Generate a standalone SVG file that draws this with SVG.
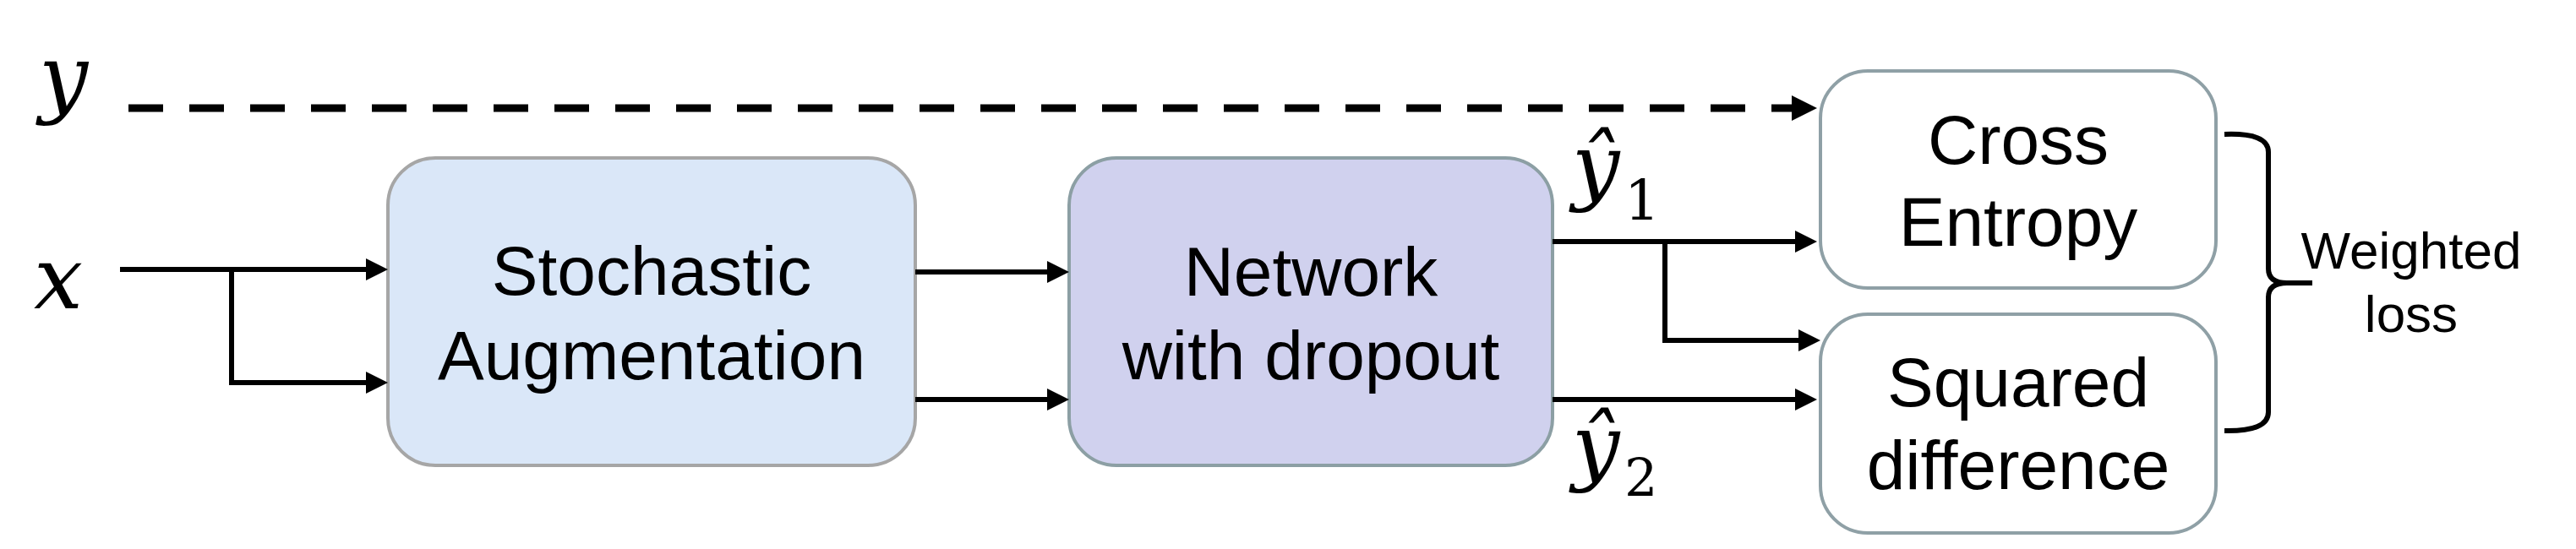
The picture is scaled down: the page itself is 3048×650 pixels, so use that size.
<svg xmlns="http://www.w3.org/2000/svg" width="3048" height="650" viewBox="0 0 3048 650">
<style>
.box{stroke-width:4}
.lbl{font-family:"Liberation Sans",Arial,sans-serif;font-size:82px;fill:#000;text-anchor:middle}
.sm{font-family:"Liberation Sans",Arial,sans-serif;font-size:62px;fill:#000;text-anchor:middle}
.math{font-family:"DejaVu Serif","Liberation Serif",serif;font-style:italic;fill:#000}
.sub{font-style:normal}
.ln{fill:none;stroke:#000;stroke-width:6}
</style>
<defs>
<marker id="ah" markerUnits="userSpaceOnUse" markerWidth="28" markerHeight="28" refX="0" refY="13" orient="auto" viewBox="0 0 28 28">
<path d="M0,0 L26,13 L0,26 z" fill="#000"/>
</marker>
<marker id="ahd" markerUnits="userSpaceOnUse" markerWidth="32" markerHeight="32" refX="0" refY="15" orient="auto" viewBox="0 0 32 32">
<path d="M0,0 L30,15 L0,30 z" fill="#000"/>
</marker>
</defs>
<rect width="3048" height="650" fill="#fff"/>
<g id="label-y"><text class="math" x="46" y="126" font-size="103">y</text></g>
<g id="label-x"><text class="math" x="40" y="365" font-size="103">x</text></g>
<g id="label-yhat1"><text class="math" x="1860" y="230" font-size="100">ŷ<tspan class="sub" font-size="66" x="1922" y="260">1</tspan></text></g>
<g id="label-yhat2"><text class="math" x="1860" y="562" font-size="100">ŷ<tspan class="sub" font-size="62" x="1922" y="587">2</tspan></text></g>
<g id="node-augment">
<rect class="box" x="459" y="187" width="624" height="364" rx="56" fill="#dae7f8" stroke="#a6a6a6"/>
<text class="lbl" x="771" y="349">Stochastic</text>
<text class="lbl" x="771" y="449">Augmentation</text>
</g>
<g id="node-network">
<rect class="box" x="1265" y="187" width="572" height="364" rx="56" fill="#d0d1ee" stroke="#8c9fa4"/>
<text class="lbl" x="1551" y="350">Network</text>
<text class="lbl" x="1551" y="449">with dropout</text>
</g>
<g id="node-ce">
<rect class="box" x="2154" y="84" width="468" height="257" rx="56" fill="#fff" stroke="#8fa0a6"/>
<text class="lbl" x="2388" y="194">Cross</text>
<text class="lbl" x="2388" y="291">Entropy</text>
</g>
<g id="node-sq">
<rect class="box" x="2154" y="372" width="468" height="259" rx="56" fill="#fff" stroke="#8fa0a6"/>
<text class="lbl" x="2388" y="481">Squared</text>
<text class="lbl" x="2388" y="579">difference</text>
</g>
<g id="node-weighted">
<path class="ln" stroke-width="8" d="M2632,159 Q2684,157 2684,180 L2684,318 Q2684,335 2706,335 L2736,335 M2706,335 Q2684,335 2684,352 L2684,488 Q2684,511 2632,510"/>
<text class="sm" x="2853" y="318">Weighted</text>
<text class="sm" x="2853" y="393">loss</text>
</g>
<g id="connectors">
<line x1="152" y1="128" x2="2120" y2="128" stroke="#000" stroke-width="9" stroke-dasharray="41 31" marker-end="url(#ahd)"/>
<path class="ln" d="M142,319 L433,319" marker-end="url(#ah)"/>
<path class="ln" d="M274,319 L274,453 L433,453" marker-end="url(#ah)"/>
<path class="ln" d="M1083,322 L1239,322" marker-end="url(#ah)"/>
<path class="ln" d="M1083,473 L1239,473" marker-end="url(#ah)"/>
<path class="ln" d="M1837,286 L2124,286" marker-end="url(#ah)"/>
<path class="ln" d="M1970,286 L1970,403 L2128,403" marker-end="url(#ah)"/>
<path class="ln" d="M1837,473 L2124,473" marker-end="url(#ah)"/>
</g>
</svg>
